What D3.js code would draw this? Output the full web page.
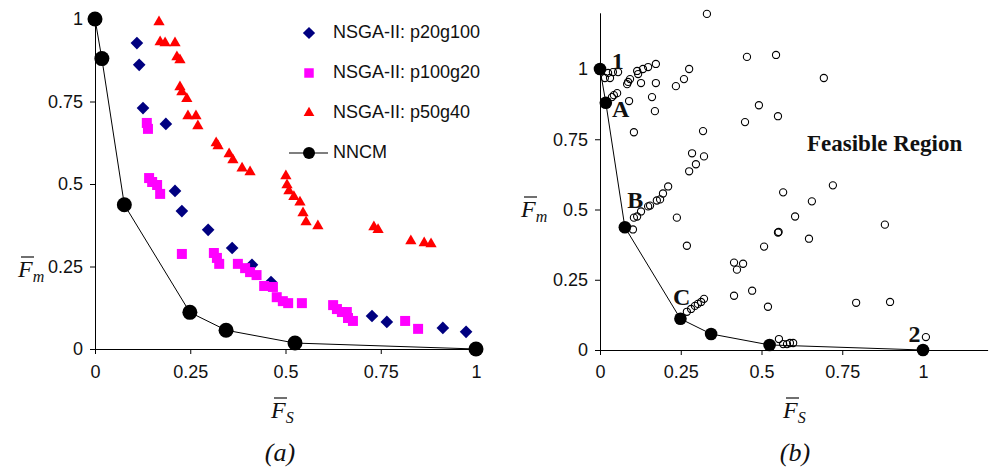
<!DOCTYPE html>
<html>
<head>
<meta charset="utf-8">
<script src="https://cdn.jsdelivr.net/npm/d3@7"></script>
<style>
  body { margin: 0; background: #fff; }
</style>
</head>
<body>
<div id="viz"></div>
<script>
const width = 990;
const height = 469;
const tickVals = [0, 0.25, 0.5, 0.75, 1];
const tickLabels = ['0', '0.25', '0.5', '0.75', '1'];

// NNCM front (same in both panels)
const nncmX = [0, 0.018, 0.077, 0.249, 0.344, 0.525, 1];
const nncmY = [1, 0.88, 0.437, 0.111, 0.057, 0.018, 0];

// NSGA-II runs, panel (a)
const p20g100X = [0.110, 0.116, 0.126, 0.186, 0.210, 0.228, 0.297, 0.360, 0.412, 0.462, 0.727, 0.766, 0.913, 0.974];
const p20g100Y = [0.927, 0.861, 0.730, 0.682, 0.479, 0.418, 0.361, 0.306, 0.255, 0.203, 0.100, 0.082, 0.064, 0.052];

const p100g20X = [0.136, 0.139, 0.142, 0.150, 0.163, 0.171, 0.228, 0.312, 0.320, 0.326, 0.375, 0.394, 0.407, 0.424,
  0.444, 0.467, 0.477, 0.493, 0.507, 0.543, 0.625, 0.635, 0.648, 0.661, 0.664, 0.677, 0.814, 0.848];
const p100g20Y = [0.685, 0.667, 0.518, 0.506, 0.497, 0.470, 0.288, 0.291, 0.276, 0.258, 0.258, 0.245, 0.233, 0.224,
  0.191, 0.188, 0.157, 0.145, 0.139, 0.139, 0.133, 0.121, 0.112, 0.112, 0.094, 0.085, 0.085, 0.061];

const p50g40X = [0.168, 0.171, 0.184, 0.210, 0.215, 0.223, 0.223, 0.228, 0.241, 0.244, 0.265, 0.270, 0.318, 0.323,
  0.352, 0.362, 0.386, 0.407, 0.501, 0.504, 0.509, 0.522, 0.538, 0.546, 0.554, 0.585, 0.732, 0.743, 0.829, 0.864, 0.882];
const p50g40Y = [0.991, 0.930, 0.927, 0.927, 0.885, 0.876, 0.794, 0.779, 0.758, 0.706, 0.706, 0.676, 0.624, 0.615,
  0.591, 0.573, 0.548, 0.536, 0.524, 0.497, 0.479, 0.461, 0.445, 0.412, 0.385, 0.373, 0.370, 0.361, 0.327, 0.321, 0.318];

const legendNames = ['NSGA-II: p20g100', 'NSGA-II: p100g20', 'NSGA-II: p50g40', 'NNCM'];

// feasible solutions, panel (b)
const feasX = [0.331, 0.455, 0.545, 0.693, 0.492, 0.449, 0.551,
  0.015, 0.031, 0.025, 0.040, 0.056,
  0.115, 0.118, 0.133, 0.149, 0.173, 0.276, 0.260, 0.235, 0.173, 0.127, 0.093, 0.087, 0.084, 0.161, 0.170, 0.090,
  0.105, 0.319, 0.285, 0.322, 0.297, 0.276,
  0.037, 0.043, 0.053,
  0.211, 0.195, 0.186, 0.176, 0.155, 0.149, 0.127, 0.115, 0.105, 0.102, 0.238, 0.269,
  0.269, 0.282, 0.294, 0.303, 0.313, 0.322,
  0.567, 0.721, 0.656, 0.604, 0.551, 0.553, 0.647, 0.882, 0.508, 0.415, 0.443, 0.424, 0.415, 0.471, 0.520,
  0.793, 0.898, 1.009,
  0.554, 0.567, 0.579, 0.588, 0.598];
const feasY = [1.196, 1.043, 1.050, 0.968, 0.871, 0.811, 0.832,
  0.968, 0.968, 0.986, 0.989, 0.989,
  0.993, 0.982, 1.000, 1.007, 1.018, 1.000, 0.964, 0.939, 0.950, 0.950, 0.964, 0.954, 0.946, 0.900, 0.850, 0.886,
  0.775, 0.779, 0.700, 0.689, 0.661, 0.636,
  0.900, 0.907, 0.914,
  0.582, 0.557, 0.536, 0.532, 0.514, 0.511, 0.493, 0.475, 0.471, 0.429, 0.471, 0.371,
  0.136, 0.146, 0.157, 0.164, 0.171, 0.182,
  0.561, 0.586, 0.529, 0.475, 0.418, 0.420, 0.396, 0.446, 0.368, 0.311, 0.307, 0.286, 0.193, 0.211, 0.154,
  0.168, 0.171, 0.046,
  0.039, 0.021, 0.021, 0.025, 0.025];

// point labels on the NNCM front, panel (b)
const ptLabels = ['1', 'A', 'B', 'C', '2'];
const ptLabelX = [0.036, 0.037, 0.084, 0.226, 0.955];
const ptLabelY = [1.0, 0.83, 0.505, 0.16, 0.03];

const zip = (xs, ys) => xs.map((x, i) => [x, ys[i]]);

const svg = d3.select('#viz')
  .append('svg')
    .attr('width', width)
    .attr('height', height)
    .style('background', '#fff');

const tickFont = '"Liberation Sans", Arial, sans-serif';
const serif = '"Liberation Serif", "Times New Roman", serif';

const styleAxis = g => {
  g.select('.domain').attr('stroke', '#000');
  g.selectAll('.tick line').attr('stroke', '#000');
  g.selectAll('.tick text')
    .attr('fill', '#111')
    .style('font-family', tickFont)
    .style('font-size', '18px');
};

// F-bar style axis label: F with overline and a subscript
const barLabel = (x, y, sub) => {
  const t = svg.append('text')
    .attr('x', x)
    .attr('y', y)
    .style('font-family', serif)
    .style('font-style', 'italic')
    .style('font-size', '24px')
    .attr('fill', '#111');
  t.append('tspan').text('F');
  t.append('tspan').attr('dy', 5).style('font-size', '16px').text(sub);
  svg.append('line')
    .attr('x1', x + 3).attr('x2', x + 16)
    .attr('y1', y - 20).attr('y2', y - 20)
    .attr('stroke', '#111')
    .attr('stroke-width', 1.2);
};

// ---------- panel (a) ----------
const xA = d3.scaleLinear().domain([0, 1]).range([95, 476]);
const yA = d3.scaleLinear().domain([0, 1]).range([349, 19]);

svg.append('g')
  .attr('transform', `translate(0, ${yA(0)})`)
  .call(d3.axisBottom(xA).tickValues(tickVals).tickFormat((d, i) => tickLabels[i])
    .tickSize(5).tickSizeOuter(0).tickPadding(11))
  .call(styleAxis);

svg.append('g')
  .attr('transform', `translate(${xA(0)}, 0)`)
  .call(d3.axisLeft(yA).tickValues(tickVals).tickFormat((d, i) => tickLabels[i])
    .tickSize(5).tickSizeOuter(0).tickPadding(7))
  .call(styleAxis);

const lineA = d3.line().x(d => xA(d[0])).y(d => yA(d[1]));
svg.append('path')
  .attr('d', lineA(zip(nncmX, nncmY)))
  .attr('fill', 'none')
  .attr('stroke', '#000')
  .attr('stroke-width', 1);

svg.append('g').selectAll('circle').data(zip(nncmX, nncmY)).join('circle')
  .attr('cx', d => xA(d[0]))
  .attr('cy', d => yA(d[1]))
  .attr('r', 7.5)
  .attr('fill', '#000');

const diamond = d3.symbol().type(d3.symbolSquare).size(80);
const square = d3.symbol().type(d3.symbolSquare).size(100);
const triangle = d3.symbol().type(d3.symbolTriangle).size(55);

svg.append('g').selectAll('path').data(zip(p20g100X, p20g100Y)).join('path')
  .attr('d', diamond)
  .attr('transform', d => `translate(${xA(d[0])}, ${yA(d[1])}) rotate(45)`)
  .attr('fill', '#000080');

svg.append('g').selectAll('path').data(zip(p100g20X, p100g20Y)).join('path')
  .attr('d', square)
  .attr('transform', d => `translate(${xA(d[0])}, ${yA(d[1])})`)
  .attr('fill', '#ff00ff');

svg.append('g').selectAll('path').data(zip(p50g40X, p50g40Y)).join('path')
  .attr('d', triangle)
  .attr('transform', d => `translate(${xA(d[0])}, ${yA(d[1])})`)
  .attr('fill', '#ff0000');

// legend
const legend = svg.append('g').attr('transform', 'translate(309, 33)');
legend.append('path').attr('d', d3.symbol().type(d3.symbolSquare).size(75))
  .attr('transform', 'rotate(45)').attr('fill', '#000080');
legend.append('path').attr('d', d3.symbol().type(d3.symbolSquare).size(90))
  .attr('transform', 'translate(0, 40)').attr('fill', '#ff00ff');
legend.append('path').attr('d', d3.symbol().type(d3.symbolTriangle).size(50))
  .attr('transform', 'translate(0, 80)').attr('fill', '#ff0000');
legend.append('line')
  .attr('x1', -20).attr('x2', 19).attr('y1', 120).attr('y2', 120)
  .attr('stroke', '#555').attr('stroke-width', 1.5);
legend.append('circle').attr('cy', 120).attr('r', 6).attr('fill', '#000');
legend.selectAll('text').data(legendNames).join('text')
  .attr('x', 24)
  .attr('y', (d, i) => i * 40 + 5)
  .attr('fill', '#111')
  .style('font-family', tickFont)
  .style('font-size', '18px')
  .text(d => d);

barLabel(18, 277, 'm');
barLabel(271, 418, 'S');

svg.append('text')
  .attr('x', 280).attr('y', 461)
  .attr('text-anchor', 'middle')
  .style('font-family', serif)
  .style('font-style', 'italic')
  .style('font-size', '26px')
  .attr('fill', '#111')
  .text('(a)');

// ---------- panel (b) ----------
const xB = d3.scaleLinear().domain([0, 1.2]).range([600, 600 + 1.2 * 323]);
const yB = d3.scaleLinear().domain([0, 1.2]).range([350, 350 - 1.2 * 281]);

svg.append('g')
  .attr('transform', `translate(0, ${yB(0)})`)
  .call(d3.axisBottom(xB).tickValues(tickVals).tickFormat((d, i) => tickLabels[i])
    .tickSize(5).tickSizeOuter(0).tickPadding(10))
  .call(styleAxis);

svg.append('g')
  .attr('transform', `translate(${xB(0)}, 0)`)
  .call(d3.axisLeft(yB).tickValues(tickVals).tickFormat((d, i) => tickLabels[i])
    .tickSize(5).tickSizeOuter(0).tickPadding(7))
  .call(styleAxis);

const lineB = d3.line().x(d => xB(d[0])).y(d => yB(d[1]));
svg.append('path')
  .attr('d', lineB(zip(nncmX, nncmY)))
  .attr('fill', 'none')
  .attr('stroke', '#000')
  .attr('stroke-width', 1);

svg.append('g').selectAll('circle').data(zip(feasX, feasY)).join('circle')
  .attr('cx', d => xB(d[0]))
  .attr('cy', d => yB(d[1]))
  .attr('r', 3.6)
  .attr('fill', 'none')
  .attr('stroke', '#000')
  .attr('stroke-width', 1.1);

svg.append('g').selectAll('circle').data(zip(nncmX, nncmY)).join('circle')
  .attr('cx', d => xB(d[0]))
  .attr('cy', d => yB(d[1]))
  .attr('r', 6.3)
  .attr('fill', '#000');

svg.append('g').selectAll('text').data(ptLabels).join('text')
  .attr('x', (d, i) => xB(ptLabelX[i]))
  .attr('y', (d, i) => yB(ptLabelY[i]))
  .style('font-family', serif)
  .style('font-weight', 'bold')
  .style('font-size', '24px')
  .attr('fill', '#111')
  .text(d => d);

svg.append('text')
  .attr('x', 807).attr('y', 151)
  .style('font-family', serif)
  .style('font-weight', 'bold')
  .style('font-size', '23px')
  .attr('fill', '#111')
  .text('Feasible Region');

barLabel(521, 217, 'm');
barLabel(783, 418, 'S');

svg.append('text')
  .attr('x', 795).attr('y', 461)
  .attr('text-anchor', 'middle')
  .style('font-family', serif)
  .style('font-style', 'italic')
  .style('font-size', '26px')
  .attr('fill', '#111')
  .text('(b)');
</script>
</body>
</html>
